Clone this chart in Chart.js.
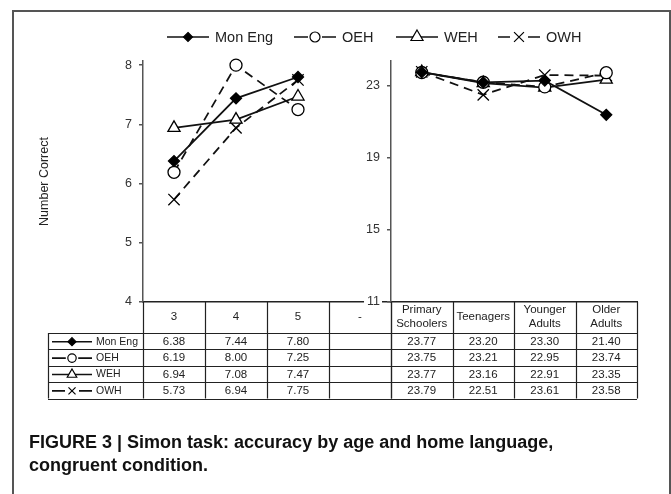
<!DOCTYPE html>
<html><head><meta charset="utf-8">
<script src="https://cdn.jsdelivr.net/npm/chart.js@4.4.1/dist/chart.umd.min.js"></script>
<style>
html,body{margin:0;padding:0;background:#fff;}
#wrap{position:relative;width:671px;height:494px;overflow:hidden;background:#fff;}
#frame{position:absolute;left:12px;top:10px;width:659px;height:520px;border:2px solid #555;border-bottom:none;box-sizing:border-box;}
#cA{position:absolute;left:0;top:0;}
#cB{position:absolute;left:330px;top:0;}
#cap{position:absolute;left:29px;top:431px;font-family:"Liberation Sans",Arial,sans-serif;font-weight:bold;font-size:18px;line-height:23px;color:#111;white-space:nowrap;}
</style></head>
<body><div id="wrap"><div id="frame"></div><canvas id="cA" width="671" height="494"></canvas><canvas id="cB" width="341" height="494"></canvas><div id="cap">FIGURE 3 | Simon task: accuracy by age and home language,<br>congruent condition.</div></div>
<script>
// ---- data ----
const seriesNames = ['Mon Eng', 'OEH', 'WEH', 'OWH'];
const ageCategories = ['3', '4', '5', '-'];
const groupCategories = [['Primary', 'Schoolers'], 'Teenagers', ['Younger', 'Adults'], ['Older', 'Adults']];
const monEngByAge = [6.38, 7.44, 7.80, null];
const oehByAge = [6.19, 8.00, 7.25, null];
const wehByAge = [6.94, 7.08, 7.47, null];
const owhByAge = [5.73, 6.94, 7.75, null];
const monEngByGroup = [23.77, 23.20, 23.30, 21.40];
const oehByGroup = [23.75, 23.21, 22.95, 23.74];
const wehByGroup = [23.77, 23.16, 22.91, 23.35];
const owhByGroup = [23.79, 22.51, 23.61, 23.58];
const leftTicks = [4, 5, 6, 7, 8];
const rightTicks = [11, 15, 19, 23];

// ---- styles ----
const FONT = "'Liberation Sans', Arial, sans-serif";
Chart.defaults.font.family = FONT;
const seriesStyles = [
  {pointStyle: 'rectRot', radius: 5.5, fill: '#000', dash: []},
  {pointStyle: 'circle', radius: 6, fill: '#fff', dash: [9, 6]},
  {pointStyle: 'triangle', radius: 7, fill: '#fff', dash: []},
  {pointStyle: 'crossRot', radius: 8, fill: '#fff', dash: [9, 6]}
];

function makeDatasets(valueLists) {
  return valueLists.map((vals, i) => {
    const s = seriesStyles[i];
    return {
      label: seriesNames[i], data: vals,
      borderColor: '#111', borderWidth: 1.8, borderDash: s.dash, tension: 0,
      pointStyle: s.pointStyle, pointRadius: s.radius, pointBackgroundColor: s.fill,
      pointBorderColor: '#000', pointBorderWidth: 1.3, clip: false, spanGaps: false
    };
  });
}

function drawMarker(ctx, style, r, x, y) {
  ctx.save();
  ctx.setLineDash([]);
  ctx.lineWidth = 1.2;
  ctx.strokeStyle = '#000';
  ctx.fillStyle = style.fill;
  ctx.beginPath();
  if (style.pointStyle === 'rectRot') {
    ctx.moveTo(x, y - r); ctx.lineTo(x + r, y); ctx.lineTo(x, y + r); ctx.lineTo(x - r, y); ctx.closePath();
    ctx.fill(); ctx.stroke();
  } else if (style.pointStyle === 'circle') {
    ctx.arc(x, y, r, 0, Math.PI * 2); ctx.fill(); ctx.stroke();
  } else if (style.pointStyle === 'triangle') {
    ctx.moveTo(x, y - r); ctx.lineTo(x + 0.866 * r, y + 0.5 * r); ctx.lineTo(x - 0.866 * r, y + 0.5 * r); ctx.closePath();
    ctx.fill(); ctx.stroke();
  } else {
    const d = 0.707 * r;
    ctx.moveTo(x - d, y - d); ctx.lineTo(x + d, y + d);
    ctx.moveTo(x + d, y - d); ctx.lineTo(x - d, y + d);
    ctx.stroke();
  }
  ctx.restore();
}

function drawSample(ctx, style, x1, x2, y, r) {
  const mx = (x1 + x2) / 2;
  ctx.save();
  ctx.strokeStyle = '#111';
  ctx.lineWidth = 1.6;
  ctx.beginPath();
  if (style.dash.length) {
    ctx.moveTo(x1, y); ctx.lineTo(mx - r - 2, y);
    ctx.moveTo(mx + r + 2, y); ctx.lineTo(x2, y);
  } else {
    ctx.moveTo(x1, y); ctx.lineTo(x2, y);
  }
  ctx.stroke();
  ctx.restore();
  drawMarker(ctx, style, r, mx, y);
}

const tablePlugin = {
  id: 'dataTable',
  afterDraw(chart, args, opts) {
    const ctx = chart.ctx, xs = chart.scales.x, ca = chart.chartArea;
    const n = chart.data.labels.length;
    const colW = (ca.right - ca.left) / n;
    const top = ca.bottom, headBottom = xs.bottom;
    const rowH = opts.rowH;
    const dss = chart.data.datasets;
    const tableBottom = headBottom + rowH * dss.length;
    ctx.save();
    ctx.strokeStyle = '#222';
    ctx.lineWidth = 1.2;
    ctx.beginPath();
    for (let i = 0; i <= n; i++) {
      const x = Math.round(ca.left + i * colW) + 0.5;
      ctx.moveTo(x, top); ctx.lineTo(x, tableBottom);
    }
    const x0 = opts.labelCol ? opts.labelLeft : ca.left;
    for (let r = 0; r <= dss.length; r++) {
      const y = Math.round(headBottom + r * rowH) + 0.5;
      ctx.moveTo(x0, y); ctx.lineTo(ca.right, y);
    }
    if (opts.labelCol) {
      ctx.moveTo(opts.labelLeft + 0.5, headBottom); ctx.lineTo(opts.labelLeft + 0.5, tableBottom);
    }
    ctx.stroke();
    ctx.fillStyle = '#222';
    ctx.textBaseline = 'middle';
    dss.forEach((ds, r) => {
      const cy = headBottom + (r + 0.5) * rowH + 0.5;
      ctx.textAlign = 'center';
      ctx.font = '11.5px ' + FONT;
      ds.data.forEach((v, i) => {
        if (v !== null && v !== undefined) ctx.fillText(v.toFixed(2), xs.getPixelForTick(i), cy);
      });
      if (opts.labelCol) {
        const st = seriesStyles[r];
        drawSample(ctx, st, opts.labelLeft + 4, opts.labelLeft + 44, cy, opts.sampleR[r]);
        ctx.textAlign = 'left';
        ctx.fillStyle = '#222';
        ctx.font = '10.5px ' + FONT;
        ctx.fillText(ds.label, opts.labelLeft + 48, cy);
      }
    });
    ctx.restore();
  }
};

const legendPlugin = {
  id: 'lineLegend',
  afterDraw(chart, args, opts) {
    if (!opts.show) return;
    const ctx = chart.ctx;
    ctx.save();
    chart.data.datasets.forEach((ds, i) => {
      const x = opts.starts[i];
      drawSample(ctx, seriesStyles[i], x, x + opts.len, opts.y, opts.r[i]);
      ctx.fillStyle = '#222';
      ctx.font = '14.5px ' + FONT;
      ctx.textAlign = 'left';
      ctx.textBaseline = 'middle';
      ctx.fillText(ds.label, x + opts.len + 6, opts.y + 1);
    });
    ctx.restore();
  }
};

function xAxis(crossAlign) {
  return {
    type: 'category', offset: true,
    grid: {display: true, drawOnChartArea: false, drawTicks: false},
    border: {display: true, color: '#222', width: 1.5},
    ticks: {padding: 8, font: {size: 11.5, lineHeight: 1.2}, color: '#222', maxRotation: 0, minRotation: 0, autoSkip: false, crossAlign: crossAlign},
    afterFit(s) { s.height = 31; }
  };
}

new Chart(document.getElementById('cA'), {
  type: 'line',
  data: {labels: ageCategories, datasets: makeDatasets([monEngByAge, oehByAge, wehByAge, owhByAge])},
  options: {
    responsive: false, animation: false, devicePixelRatio: 1,
    layout: {padding: {top: 61, right: 280, bottom: 161, left: 0}},
    plugins: {
      legend: {display: false}, tooltip: {enabled: false},
      dataTable: {rowH: 16.4, labelCol: true, labelLeft: 48, sampleR: [4, 4.2, 5.5, 5]},
      lineLegend: {show: true, y: 37, starts: [167, 294, 396, 498], len: 42, r: [4.5, 5, 7, 7]}
    },
    scales: {
      x: xAxis('near'),
      y: {
        min: 4, max: 8.07,
        afterBuildTicks(s) { s.ticks = leftTicks.map(v => ({value: v})); },
        grid: {drawOnChartArea: false, tickLength: 4, color: '#555', lineWidth: 1.5},
        border: {color: '#555', width: 1.5},
        ticks: {padding: 7, font: {size: 12.5}, color: '#333'},
        title: {display: true, text: 'Number Correct', font: {size: 12.5}, color: '#222', padding: {top: 37, bottom: 0}},
        afterFit(s) { s.width = 143; }
      }
    }
  },
  plugins: [tablePlugin, legendPlugin]
});

new Chart(document.getElementById('cB'), {
  type: 'line',
  data: {labels: groupCategories, datasets: makeDatasets([monEngByGroup, oehByGroup, wehByGroup, owhByGroup])},
  options: {
    responsive: false, animation: false, devicePixelRatio: 1,
    layout: {padding: {top: 61, right: 34, bottom: 161, left: 0}},
    plugins: {
      legend: {display: false}, tooltip: {enabled: false},
      dataTable: {rowH: 16.4, labelCol: false},
      lineLegend: {show: false}
    },
    scales: {
      x: xAxis('center'),
      y: {
        min: 11, max: 24.39,
        afterBuildTicks(s) { s.ticks = rightTicks.map(v => ({value: v})); },
        grid: {drawOnChartArea: false, tickLength: 4, color: '#555', lineWidth: 1.5},
        border: {color: '#555', width: 1.5},
        ticks: {padding: 7, font: {size: 12.5}, color: '#333', showLabelBackdrop: true, backdropColor: '#fff', backdropPadding: {top: 0, bottom: 0, left: 3, right: 2}},
        afterFit(s) { s.width = 61; }
      }
    }
  },
  plugins: [tablePlugin, legendPlugin]
});
</script>
</body></html>
